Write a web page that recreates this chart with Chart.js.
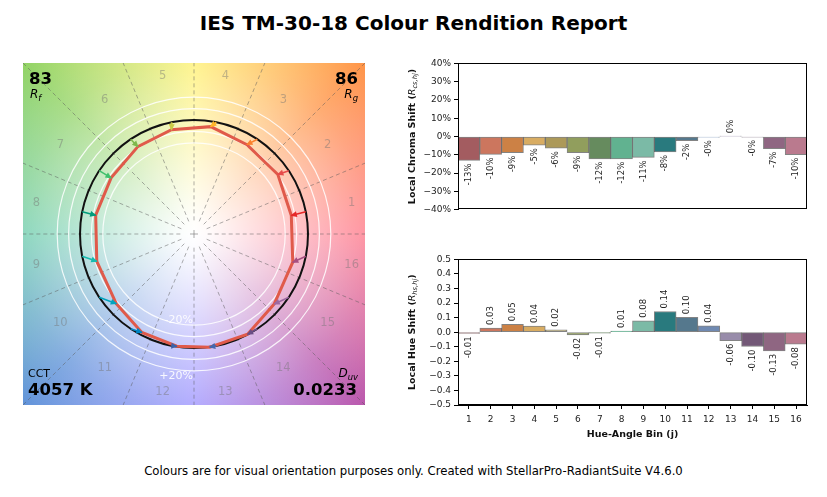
<!DOCTYPE html>
<html>
<head>
<meta charset="utf-8">
<script src="https://cdn.jsdelivr.net/npm/chart.js@4.4.0/dist/chart.umd.min.js"></script>
<style>
  body { margin: 0; background: #fff; width: 827px; height: 497px; position: relative; overflow: hidden; font-family: "DejaVu Sans", sans-serif; color: #000; }
  #title { position: absolute; left: 0; width: 827px; top: 12px; line-height: 22px; text-align: center; font-weight: bold; font-size: 20px; }
  #footer { position: absolute; left: 0; width: 827px; top: 464px; line-height: 14px; text-align: center; font-size: 11.7px; }
  canvas { position: absolute; }
  #polar { left: 23px; top: 63px; }
  #chroma { left: 398px; top: 55px; }
  #hue { left: 398px; top: 251px; }
</style>
</head>
<body>
<div id="title">IES TM-30-18 Colour Rendition Report</div>
<canvas id="polar" width="342" height="342"></canvas>
<canvas id="chroma" width="417" height="163"></canvas>
<canvas id="hue" width="417" height="193"></canvas>
<div id="footer">Colours are for visual orientation purposes only. Created with StellarPro-RadiantSuite V4.6.0</div>
<script>
var bins = ["1", "2", "3", "4", "5", "6", "7", "8", "9", "10", "11", "12", "13", "14", "15", "16"];
var chromaShift = [-13.1, -9.8, -8.9, -4.7, -6.4, -8.9, -12.2, -12.2, -11.4, -8.4, -2.3, -0.4, 0.2, -0.3, -6.6, -9.9];
var hueShift = [-0.008, 0.028, 0.054, 0.042, 0.016, -0.018, -0.006, 0.008, 0.078, 0.142, 0.102, 0.044, -0.058, -0.098, -0.128, -0.082];
var chromaTicks = [-40, -30, -20, -10, 0, 10, 20, 30, 40];
var hueTicks = [-0.5, -0.4, -0.3, -0.2, -0.1, 0, 0.1, 0.2, 0.3, 0.4, 0.5];
var Rf = "83";
var Rg = "86";
var CCT = "4057 K";
var Duv = "0.0233";

var binColours = ["#A35C60", "#CC765E", "#CC8145", "#D8AC62", "#AC9959", "#919E5D", "#668B5E", "#61B290",
  "#7BBAA6", "#297A7E", "#55788D", "#708AB2", "#988CAA", "#735877", "#8F6682", "#BA7A8E"];
var arrowColours = ["#E62828", "#E74B4B", "#FB812E", "#FFB529", "#CBCA46", "#7EB94C", "#41C06D", "#009C7C",
  "#16BCB0", "#00A4BF", "#0085C3", "#3B62AA", "#4568AE", "#6A4E85", "#9D69A1", "#A74F81"];

var FONT = '"DejaVu Sans", sans-serif';

//Vecteurs du graphe polaire
function binAngle(i) {
  return (i + 0.5) * Math.PI / 8;
}
var testPts = chromaShift.map(function (c, i) {
  var r = 1 + c / 100;
  var a = binAngle(i) + hueShift[i];
  return { x: r * Math.cos(a), y: r * Math.sin(a) };
});
var polarSets = [];
for (var i = 0; i < bins.length; i++) {
  polarSets.push({
    data: [{ x: Math.cos(binAngle(i)), y: Math.sin(binAngle(i)) }, testPts[i]],
    showLine: true,
    arrow: true,
    borderColor: arrowColours[i],
    borderWidth: 1.6,
    pointRadius: 0,
    order: 0,
  });
}
polarSets.push({
  data: testPts.concat([testPts[0]]),
  showLine: true,
  borderColor: "#e05a4a",
  borderWidth: 3,
  pointRadius: 0,
  order: 1,
});

var hueStops = [[0, "#ff6d80"], [45, "#ff9142"], [90, "#fff064"], [135, "#8ed260"], [180, "#62c8a6"],
  [225, "#5c90d8"], [270, "#968cff"], [315, "#b852aa"]];

var polarBackdrop = {
  id: "polarBackdrop",
  beforeDatasetsDraw: function (chart) {
    var ctx = chart.ctx, a = chart.chartArea;
    var cx = chart.scales.x.getPixelForValue(0);
    var cy = chart.scales.y.getPixelForValue(0);
    var u = chart.scales.x.getPixelForValue(1) - cx;
    ctx.save();
    ctx.beginPath();
    ctx.rect(a.left, a.top, a.width, a.height);
    ctx.clip();
    var g = ctx.createConicGradient(0, cx, cy);
    hueStops.forEach(function (s) {
      g.addColorStop(s[0] === 0 ? 0 : 1 - s[0] / 360, s[1]);
    });
    g.addColorStop(1, hueStops[0][1]);
    ctx.fillStyle = g;
    ctx.fillRect(a.left, a.top, a.width, a.height);
    var w = ctx.createRadialGradient(cx, cy, 0, cx, cy, 2.15 * u);
    w.addColorStop(0, "rgba(255,255,255,1)");
    w.addColorStop(0.07, "rgba(255,255,255,0.96)");
    w.addColorStop(0.3, "rgba(255,255,255,0.72)");
    w.addColorStop(0.5, "rgba(255,255,255,0.5)");
    w.addColorStop(0.72, "rgba(255,255,255,0.26)");
    w.addColorStop(1, "rgba(255,255,255,0.02)");
    ctx.fillStyle = w;
    ctx.fillRect(a.left, a.top, a.width, a.height);

    // rayons en pointillés
    ctx.strokeStyle = "rgba(90,90,90,0.55)";
    ctx.lineWidth = 0.9;
    ctx.setLineDash([4, 3]);
    for (var k = 0; k < 16; k++) {
      var t = k * Math.PI / 8;
      ctx.beginPath();
      ctx.moveTo(cx + 0.12 * u * Math.cos(t), cy - 0.12 * u * Math.sin(t));
      ctx.lineTo(cx + 2.2 * u * Math.cos(t), cy - 2.2 * u * Math.sin(t));
      ctx.stroke();
    }
    ctx.setLineDash([]);
    ctx.strokeStyle = "rgba(120,120,120,0.7)";
    ctx.beginPath();
    ctx.moveTo(cx - 4, cy); ctx.lineTo(cx + 4, cy);
    ctx.moveTo(cx, cy - 4); ctx.lineTo(cx, cy + 4);
    ctx.stroke();

    // cercles
    ctx.strokeStyle = "rgba(255,255,255,0.85)";
    ctx.lineWidth = 1.2;
    [0.8, 0.9, 1.1, 1.2].forEach(function (r) {
      ctx.beginPath();
      ctx.arc(cx, cy, r * u, 0, 2 * Math.PI);
      ctx.stroke();
    });
    ctx.strokeStyle = "#111";
    ctx.lineWidth = 2;
    ctx.beginPath();
    ctx.arc(cx, cy, u, 0, 2 * Math.PI);
    ctx.stroke();

    ctx.font = "11px " + FONT;
    ctx.fillStyle = "rgba(255,255,255,0.9)";
    ctx.textAlign = "right";
    ctx.textBaseline = "middle";
    ctx.fillText("-20%", cx - 1, cy + 0.76 * u);
    ctx.fillText("+20%", cx - 1, cy + 1.245 * u);

    ctx.font = "11.5px " + FONT;
    ctx.fillStyle = "rgba(115,115,115,0.45)";
    ctx.textAlign = "center";
    bins.forEach(function (b, j) {
      var t = binAngle(j);
      ctx.fillText(b, cx + 1.41 * u * Math.cos(t), cy - 1.41 * u * Math.sin(t));
    });
    ctx.restore();
  },
};

var arrowHeads = {
  id: "arrowHeads",
  afterDatasetsDraw: function (chart) {
    var ctx = chart.ctx;
    chart.data.datasets.forEach(function (ds, k) {
      if (!ds.arrow) return;
      var pts = chart.getDatasetMeta(k).data;
      var p0 = pts[0], p1 = pts[1];
      var ang = Math.atan2(p1.y - p0.y, p1.x - p0.x);
      ctx.save();
      ctx.translate(p1.x, p1.y);
      ctx.rotate(ang);
      ctx.beginPath();
      ctx.moveTo(1, 0);
      ctx.lineTo(-5.5, 3);
      ctx.lineTo(-5.5, -3);
      ctx.closePath();
      ctx.fillStyle = ds.borderColor;
      ctx.fill();
      ctx.restore();
    });
  },
};

function drawSub(ctx, main, sub, x, y, size, align) {
  ctx.font = "italic " + size + "px " + FONT;
  var w1 = ctx.measureText(main).width;
  ctx.font = "italic " + (size * 0.7) + "px " + FONT;
  var w2 = ctx.measureText(sub).width;
  var x0 = align === "right" ? x - w1 - w2 : x;
  ctx.textAlign = "left";
  ctx.font = "italic " + size + "px " + FONT;
  ctx.fillText(main, x0, y);
  ctx.font = "italic " + (size * 0.7) + "px " + FONT;
  ctx.fillText(sub, x0 + w1, y + 2.5);
}

var polarText = {
  id: "polarText",
  afterDraw: function (chart) {
    var ctx = chart.ctx, a = chart.chartArea;
    ctx.save();
    ctx.fillStyle = "#000";
    ctx.textBaseline = "alphabetic";
    ctx.font = "bold 16.5px " + FONT;
    ctx.textAlign = "left";
    ctx.fillText(Rf, a.left + 6, a.top + 20.5);
    ctx.fillText(CCT, a.left + 5, a.top + 332);
    ctx.textAlign = "right";
    ctx.fillText(Rg, a.right - 7, a.top + 20.5);
    ctx.fillText(Duv, a.right - 8, a.top + 332);
    ctx.font = "11px " + FONT;
    ctx.textAlign = "left";
    ctx.fillText("CCT", a.left + 5, a.top + 314);
    drawSub(ctx, "R", "f", a.left + 7, a.top + 35, 12, "left");
    drawSub(ctx, "R", "g", a.right - 7, a.top + 35, 12, "right");
    drawSub(ctx, "D", "uv", a.right - 7, a.top + 314, 12, "right");
    ctx.restore();
  },
};

new Chart(document.getElementById("polar"), {
  type: "scatter",
  data: { datasets: polarSets },
  options: {
    responsive: false,
    animation: false,
    layout: { padding: 0 },
    scales: {
      x: { type: "linear", min: -1.5, max: 1.5, display: false },
      y: { type: "linear", min: -1.5, max: 1.5, display: false },
    },
    plugins: { legend: { display: false }, tooltip: { enabled: false } },
  },
  plugins: [polarBackdrop, arrowHeads, polarText],
});

//Histogrammes
var frame = {
  id: "frame",
  afterDraw: function (chart) {
    var ctx = chart.ctx, a = chart.chartArea;
    ctx.save();
    ctx.strokeStyle = "#000";
    ctx.lineWidth = 1;
    ctx.strokeRect(Math.round(a.left) + 0.5, Math.round(a.top) + 0.5, Math.round(a.width) - 1, Math.round(a.height) - 1);
    ctx.restore();
  },
};

function makeBarLabels(format) {
  return {
    id: "barLabels",
    afterDatasetsDraw: function (chart) {
      var ctx = chart.ctx;
      var meta = chart.getDatasetMeta(0);
      var vals = chart.data.datasets[0].data;
      ctx.save();
      ctx.font = "8.5px " + FONT;
      ctx.fillStyle = "#222";
      ctx.textBaseline = "middle";
      meta.data.forEach(function (bar, i) {
        var up = vals[i] >= 0;
        ctx.save();
        ctx.translate(bar.x, up ? bar.y - 3 : bar.y + 3);
        ctx.rotate(-Math.PI / 2);
        ctx.textAlign = up ? "left" : "right";
        ctx.fillText(format(vals[i]), 0, 0);
        ctx.restore();
      });
      ctx.restore();
    },
  };
}

function makeYTitle(parts) {
  return {
    id: "yTitle",
    afterDraw: function (chart) {
      var ctx = chart.ctx, a = chart.chartArea;
      ctx.save();
      var total = 0;
      parts.forEach(function (p) {
        ctx.font = p.font;
        p.w = ctx.measureText(p.text).width;
        total += p.w;
      });
      ctx.translate(a.left - 45, (a.top + a.bottom) / 2);
      ctx.rotate(-Math.PI / 2);
      ctx.textBaseline = "middle";
      ctx.textAlign = "left";
      ctx.fillStyle = "#111";
      var x = -total / 2;
      parts.forEach(function (p) {
        ctx.font = p.font;
        ctx.fillText(p.text, x, p.dy || 0);
        x += p.w;
      });
      ctx.restore();
    },
  };
}

function minus(s) {
  return s.replace("-", "\u2212");
}

var yBase = {
  grid: { drawOnChartArea: false, drawTicks: true, tickLength: 4, color: "#000" },
  border: { color: "#000" },
  afterFit: function (s) { s.width = 60; },
};

new Chart(document.getElementById("chroma"), {
  type: "bar",
  data: {
    labels: bins,
    datasets: [{
      data: chromaShift,
      backgroundColor: binColours,
      borderColor: "rgba(30,30,30,0.55)",
      borderWidth: 1,
      borderSkipped: false,
      barPercentage: 1,
      categoryPercentage: 1,
    }],
  },
  options: {
    responsive: false,
    animation: false,
    layout: { padding: { top: 8, right: 8, bottom: 7, left: 0 } },
    scales: {
      x: { display: false },
      y: Object.assign({}, yBase, {
        min: chromaTicks[0],
        max: chromaTicks[chromaTicks.length - 1],
        afterBuildTicks: function (s) { s.ticks = chromaTicks.map(function (v) { return { value: v }; }); },
        ticks: {
          font: { family: FONT, size: 9 }, color: "#222", padding: 3,
          callback: function (v) { return minus(v + "%"); },
        },
      }),
    },
    plugins: { legend: { display: false }, tooltip: { enabled: false } },
  },
  plugins: [frame, makeBarLabels(function (v) { return v.toFixed(0) + "%"; }),
    makeYTitle([
      { text: "Local Chroma Shift (", font: "bold 9.5px " + FONT },
      { text: "R", font: "italic 9.5px " + FONT },
      { text: "cs,hj", font: "italic 6.7px " + FONT, dy: 2.3 },
      { text: ")", font: "bold 9.5px " + FONT },
    ])],
});

new Chart(document.getElementById("hue"), {
  type: "bar",
  data: {
    labels: bins,
    datasets: [{
      data: hueShift,
      backgroundColor: binColours,
      borderColor: "rgba(30,30,30,0.55)",
      borderWidth: 1,
      borderSkipped: false,
      barPercentage: 1,
      categoryPercentage: 1,
    }],
  },
  options: {
    responsive: false,
    animation: false,
    layout: { padding: { top: 8, right: 8, bottom: 0, left: 0 } },
    scales: {
      x: {
        grid: { drawOnChartArea: false, drawTicks: true, tickLength: 4, offset: false, color: "#000" },
        border: { color: "#000" },
        ticks: { font: { family: FONT, size: 9 }, color: "#222", padding: 5, maxRotation: 0 },
        title: {
          display: true, text: "Hue-Angle Bin (j)", color: "#111",
          font: { family: FONT, size: 9.5, weight: "bold" }, padding: { top: 2, bottom: 4 },
        },
        afterFit: function (s) { s.height = 39; },
      },
      y: Object.assign({}, yBase, {
        min: hueTicks[0],
        max: hueTicks[hueTicks.length - 1],
        afterBuildTicks: function (s) { s.ticks = hueTicks.map(function (v) { return { value: v }; }); },
        ticks: {
          font: { family: FONT, size: 9 }, color: "#222", padding: 3,
          callback: function (v) { return minus(v.toFixed(1)); },
        },
      }),
    },
    plugins: { legend: { display: false }, tooltip: { enabled: false } },
  },
  plugins: [frame, makeBarLabels(function (v) { return v.toFixed(2); }),
    makeYTitle([
      { text: "Local Hue Shift (", font: "bold 9.5px " + FONT },
      { text: "R", font: "italic 9.5px " + FONT },
      { text: "hs,hj", font: "italic 6.7px " + FONT, dy: 2.3 },
      { text: ")", font: "bold 9.5px " + FONT },
    ])],
});
</script>
</body>
</html>
